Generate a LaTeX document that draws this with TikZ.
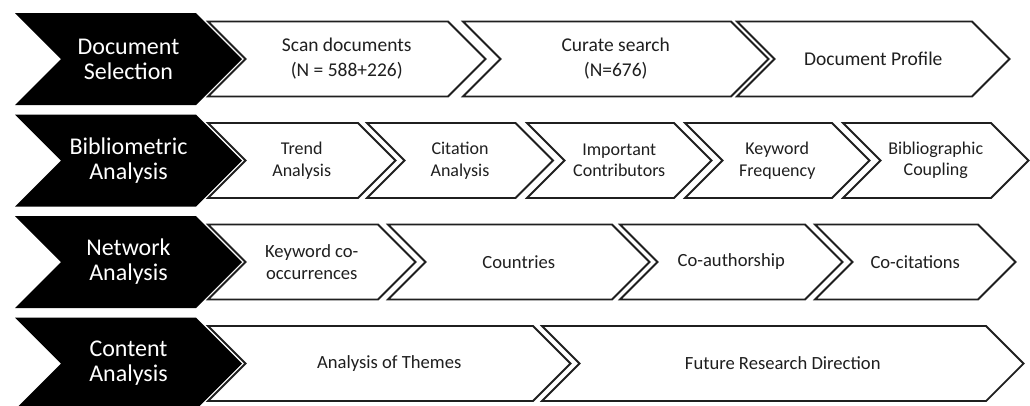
\documentclass[tikz,border=0pt]{standalone}
\usepackage{fontspec}
\setmainfont{Carlito}
\tikzset{
  bshape/.style={fill=black, draw=none},
  wshape/.style={fill=white, draw=black!88, line width=1.8pt, line join=miter},
  btext/.style={text=white, align=center, inner sep=0pt, font=\fontsize{24}{25}\selectfont},
  wtext/.style={text=black!88, align=center, inner sep=0pt, font=\fontsize{18.6}{22}\selectfont},
}
% black chevron: name, x-left, x-right(top), centre y, text
\newcommand\bchev[5]{%
  \path[bshape] (#2,#4-46) -- (#3,#4-46) -- (#3+46,#4) -- (#3,#4+46) -- (#2,#4+46) -- (#2+46,#4) -- cycle;
  \node[btext] (#1) at ({(#2+46+#3)/2},#4) {#5};}
% white chevron: name, x-left, x-right(top), centre y, text
\newcommand\wchev[5]{%
  \path[wshape] (#2,#4-37.5) -- (#3,#4-37.5) -- (#3+37.5,#4) -- (#3,#4+37.5) -- (#2,#4+37.5) -- (#2+37.5,#4) -- cycle;
  \node[wtext] (#1) at ({(#2+37.5+#3)/2},#4) {#5};}
\begin{document}
\begin{tikzpicture}[x=1pt,y=-1pt]
\useasboundingbox (0,0) rectangle (1030,405);
\clip (0,0) rectangle (1030,405);
% Row 1
\begin{scope}[wtext/.append style={font=\fontsize{19.5}{25}\selectfont}]
\bchev{r1}{15}{196}{59}{Document\\Selection}
\wchev{r1a}{208}{448}{59}{Scan documents\\(N = 588+226)}
\wchev{r1b}{463}{731}{59}{Curate search\\(N=676)}
\wchev{r1c}{737}{972}{59}{Document Profile}
\end{scope}
% Row 2
\begin{scope}[wtext/.append style={font=\fontsize{18}{21.5}\selectfont}]
\bchev{r2}{15}{196}{160.5}{Bibliometric\\Analysis}
\wchev{r2a}{208}{358}{160.5}{Trend\\Analysis}
\wchev{r2b}{367}{515.5}{160.5}{Citation\\Analysis}
\wchev{r2c}{527}{674}{160.5}{Important\\Contributors}
\wchev{r2d}{685}{832}{160.5}{Keyword\\Frequency}
\wchev{r2e}{843}{991}{160.5}{Bibliographic\\Coupling}
\end{scope}
% Row 3
\bchev{r3}{15}{196}{262}{Network\\Analysis}
\wchev{r3a}{208}{378}{262}{Keyword co-\\occurrences}
\wchev{r3b}{388}{612}{262}{Countries}
\wchev{r3c}{620}{805}{262}{Co-authorship}
\wchev{r3d}{815}{978}{262}{Co-citations}
% Row 4
\bchev{r4}{15}{196}{363.5}{Content\\Analysis}
\wchev{r4a}{208}{533}{363.5}{Analysis of Themes}
\wchev{r4b}{542}{986}{363.5}{Future Research Direction}
\end{tikzpicture}
\end{document}
